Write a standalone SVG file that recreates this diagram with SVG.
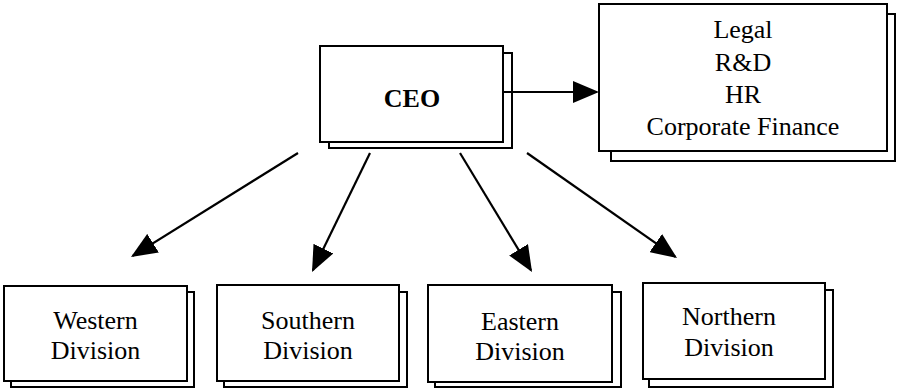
<svg xmlns="http://www.w3.org/2000/svg" width="897" height="388" viewBox="0 0 897 388">
  <style>
    .back { fill: #fff; stroke: #000; stroke-width: 2; }
    .front { fill: #fff; stroke: #000; stroke-width: 2; }
    .lbl { font-family: "Liberation Serif", "Times New Roman", serif; font-size: 26px; fill: #000; text-anchor: middle; }
    .bold { font-weight: bold; }
    .conn { stroke: #000; stroke-width: 2.2; fill: none; marker-end: url(#head); }
  </style>
  <defs>
    <marker id="head" viewBox="0 0 26 22" refX="24" refY="11" markerWidth="26" markerHeight="22" markerUnits="userSpaceOnUse" orient="auto">
      <path d="M0,0 L26,11 L0,22 Z" fill="#000"/>
    </marker>
  </defs>
  <rect width="897" height="388" fill="#fff"/>

  <!-- chief executive -->
  <g id="ceo">
    <rect class="back" x="329" y="53" width="183" height="95"/>
    <rect class="front" x="320" y="46" width="183" height="96"/>
    <text class="lbl bold" x="412" y="107">CEO</text>
  </g>

  <!-- corporate staff functions -->
  <g id="corporate">
    <rect class="back" x="611" y="14" width="284" height="147"/>
    <rect class="front" x="599" y="4" width="288" height="147"/>
    <text class="lbl" x="743" y="38">Legal</text>
    <text class="lbl" x="743" y="71">R&amp;D</text>
    <text class="lbl" x="743" y="103">HR</text>
    <text class="lbl" x="743" y="135">Corporate Finance</text>
  </g>

  <!-- divisions -->
  <g id="western">
    <rect class="back" x="11" y="292" width="183" height="95"/>
    <rect class="front" x="4" y="286" width="183" height="95"/>
    <text class="lbl" x="95.5" y="329">Western</text>
    <text class="lbl" x="95.5" y="359">Division</text>
  </g>
  <g id="southern">
    <rect class="back" x="224" y="292" width="183" height="95"/>
    <rect class="front" x="217" y="285" width="182" height="96"/>
    <text class="lbl" x="308" y="329">Southern</text>
    <text class="lbl" x="308" y="359">Division</text>
  </g>
  <g id="eastern">
    <rect class="back" x="435" y="292" width="186" height="95"/>
    <rect class="front" x="428" y="285" width="184" height="97"/>
    <text class="lbl" x="520" y="330">Eastern</text>
    <text class="lbl" x="520" y="360">Division</text>
  </g>
  <g id="northern">
    <rect class="back" x="649" y="290" width="184" height="97"/>
    <rect class="front" x="643" y="283" width="182" height="96"/>
    <text class="lbl" x="729" y="325">Northern</text>
    <text class="lbl" x="729" y="356">Division</text>
  </g>

  <!-- reporting lines -->
  <g id="connectors">
    <line class="conn" x1="503" y1="92" x2="597" y2="92"/>
    <line class="conn" x1="298" y1="153" x2="132.7" y2="255.9"/>
    <line class="conn" x1="370" y1="153" x2="312.9" y2="270.2"/>
    <line class="conn" x1="460" y1="153" x2="531" y2="270.3"/>
    <line class="conn" x1="527" y1="153" x2="675.4" y2="256.9"/>
  </g>
</svg>
